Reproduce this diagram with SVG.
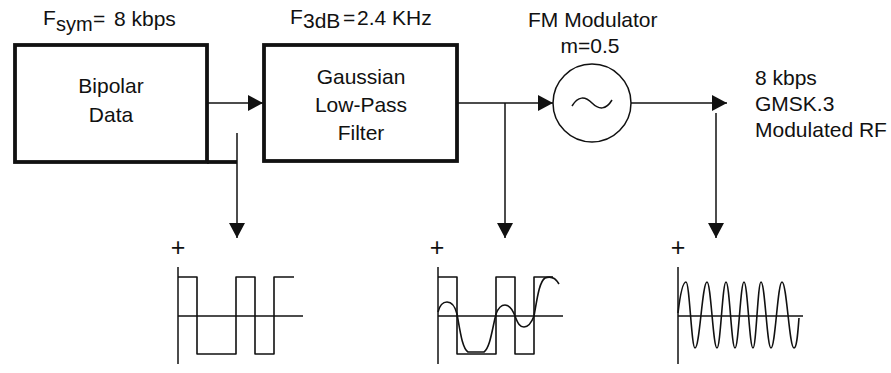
<svg xmlns="http://www.w3.org/2000/svg" width="891" height="373" viewBox="0 0 891 373">
<style>
  text { font-family: "Liberation Sans", Arial, sans-serif; fill: #111; font-size: 21px; }
  .box { fill: none; stroke: #111; stroke-width: 3.8; }
  .thin { fill: none; stroke: #111; stroke-width: 1.5; }
  .wave { fill: none; stroke: #111; stroke-width: 1.6; stroke-linejoin: round; }
  .sub { font-size: 20px; }
  .plus { font-size: 25px; text-anchor: middle; }
  .mid { text-anchor: middle; }
</style>
<defs>
  <marker id="ah" markerWidth="15" markerHeight="16" refX="15" refY="8" orient="auto" markerUnits="userSpaceOnUse">
    <path d="M0,0 L15,8 L0,16 Z" fill="#111"/>
  </marker>
</defs>
<rect width="891" height="373" fill="#fff"/>

<g id="bipolar-data">
  <rect class="box" x="15" y="45" width="192" height="117"/>
  <text class="mid" x="111" y="93">Bipolar</text>
  <text class="mid" x="111" y="122">Data</text>
  <text x="43" y="25">F</text><text class="sub" x="56" y="31">sym</text><text x="93" y="26">=</text><text x="114" y="26">8 kbps</text>
</g>

<g id="gaussian-filter">
  <rect class="box" x="264" y="45" width="193" height="116"/>
  <text class="mid" x="361" y="84">Gaussian</text>
  <text class="mid" x="361" y="112">Low-Pass</text>
  <text class="mid" x="361" y="140">Filter</text>
  <text x="290" y="24">F</text><text x="303" y="28" font-size="21">3dB</text><text x="343" y="25">=</text><text x="357" y="25">2.4 KHz</text>
</g>

<g id="fm-modulator">
  <circle class="thin" cx="592" cy="103" r="39"/>
  <path class="thin" d="M572,106 C578,96 585,96 592,103 C599,110 606,110 612,100"/>
  <text x="528" y="27">FM Modulator</text>
  <text class="mid" x="590" y="53">m=0.5</text>
</g>

<g id="output-label">
  <text x="755" y="85">8 kbps</text>
  <text x="755" y="111">GMSK.3</text>
  <text x="755" y="137">Modulated RF</text>
</g>

<g id="connectors">
  <line class="thin" x1="207" y1="103" x2="263" y2="103" marker-end="url(#ah)"/>
  <line class="thin" x1="457" y1="103" x2="553" y2="103" marker-end="url(#ah)"/>
  <line class="thin" x1="631" y1="103" x2="727" y2="103" marker-end="url(#ah)"/>
  <line x1="207" y1="162" x2="237" y2="162" stroke="#111" stroke-width="3.8"/>
  <line class="thin" x1="237" y1="133" x2="237" y2="238" marker-end="url(#ah)"/>
  <line class="thin" x1="505" y1="103" x2="505" y2="238" marker-end="url(#ah)"/>
  <line class="thin" x1="716" y1="113" x2="716" y2="238" marker-end="url(#ah)"/>
</g>

<g id="wave-data">
  <text class="plus" x="178" y="256">+</text>
  <line class="thin" x1="178" y1="267" x2="178" y2="364"/>
  <line class="thin" x1="178" y1="316" x2="303" y2="316"/>
  <path class="wave" d="M178,277 L197,277 L197,354 L236,354 L236,277 L255,277 L255,354 L274,354 L274,277 L294,277"/>
</g>

<g id="wave-filtered">
  <text class="plus" x="437" y="256">+</text>
  <line class="thin" x1="438" y1="267" x2="438" y2="364"/>
  <line class="thin" x1="438" y1="316" x2="563" y2="316"/>
  <path class="wave" d="M438,277 L457,277 L457,354 L496,354 L496,277 L515,277 L515,354 L534,354 L534,277 L553,277"/>
  <path class="wave" d="M438,312 C440,304 444,302 447,302 C452,302 455,306 457,314 C460,330 462,348 468,352 L484,352 C490,348 492,330 496,314 C499,306 502,305 505,305 C509,305 512,308 515,316 C518,324 520,327 524,327 C528,327 531,324 534,316 C537,300 539,282 545,278 C550,276 555,277 559,284"/>
</g>

<g id="wave-rf">
  <text class="plus" x="678" y="256">+</text>
  <line class="thin" x1="678" y1="267" x2="678" y2="364"/>
  <line class="thin" x1="678" y1="316" x2="803" y2="316"/>
  <path class="wave" d="M678,313 C680,296 683,282 686,282 C689.6,282 691.4,348 695,348 C699.8,348 702.2,282 707,282 C711,282 713,348 717,348 C720.6,348 722.4,282 726,282 C729.6,282 731.4,348 735,348 C738.6,348 740.4,282 744,282 C747.6,282 749.4,348 753,348 C756.2,348 757.8,282 761,282 C765,282 767,348 771,348 C775.4,348 777.6,282 782,282 C786.8,282 789.2,348 794,348 C797,348 798,330 799,318"/>
</g>
</svg>
